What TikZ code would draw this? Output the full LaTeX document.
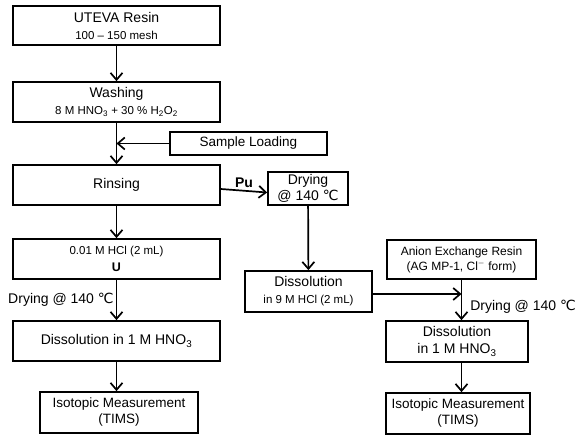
\documentclass[tikz,border=0pt]{standalone}
\usepackage{fontspec}
\setmainfont{Liberation Sans}
\newfontfamily\symfont{DejaVu Sans}
\usetikzlibrary{arrows.meta}
\newcommand{\degc}{{\symfont\char"2103}}
\newcommand{\sm}{\fontsize{11.5}{14}\selectfont}

\begin{document}
\begin{tikzpicture}[x=1pt, y=-1pt,
    stepbox/.style={draw=black, line width=1.7pt, fill=white, inner sep=1pt, align=center,
                    font=\fontsize{14}{17}\selectfont},
    flow/.style={line width=1.7pt, -{Straight Barb[length=7pt, width=12pt, line width=1.7pt]}},
    tag/.style={font=\fontsize{14}{17}\selectfont, inner sep=2pt}]
  \useasboundingbox (0,0) rectangle (576,435);
  % ---------------- left column: resin, washing, loading, rinsing ----------------
  \node[stepbox, minimum width=207, minimum height=39] (uteva) at (116.5,25.5) {UTEVA Resin\\\sm 100 -- 150 mesh};
  \node[stepbox, minimum width=207, minimum height=40] (wash)  at (116.5,102) {Washing\\\sm 8 M HNO\textsubscript{3} + 30 \% H\textsubscript{2}O\textsubscript{2}};
  \node[stepbox, minimum width=157, minimum height=23, font=\fontsize{13.5}{16}\selectfont] (sample) at (248.5,143.5) {Sample Loading};
  \node[stepbox, minimum width=207, minimum height=40] (rinse) at (116.5,185) {Rinsing};
  % ---------------- U branch ----------------
  \node[stepbox, minimum width=207, minimum height=40] (uhcl)   at (116.5,259) {\sm 0.01 M HCl (2 mL)\\\fontsize{12.5}{14}\selectfont\textbf{U}};
  \node[stepbox, minimum width=207, minimum height=40] (dissl)  at (116.5,341) {Dissolution in 1 M HNO\textsubscript{3}};
  \node[stepbox, minimum width=158, minimum height=41, font=\fontsize{13.5}{16}\selectfont] (isol) at (119,412.5) {Isotopic Measurement\\(TIMS)};
  % ---------------- Pu branch ----------------
  \node[stepbox, minimum width=80, minimum height=33, inner sep=0pt, font=\fontsize{14}{15.5}\selectfont] (dry) at (308,188.5) {Drying\\@ 140 \degc};
  \node[stepbox, minimum width=127, minimum height=41] (disshcl) at (308.5,291.5) {Dissolution\\\sm in 9 M HCl (2 mL)};
  \node[stepbox, minimum width=149, minimum height=39, font=\fontsize{12}{15}\selectfont] (anion) at (461.5,259.5) {Anion Exchange Resin\\(AG MP-1, Cl\textsuperscript{$-$} form)};
  \node[stepbox, minimum width=142, minimum height=41] (dissr) at (457,341.5) {Dissolution\\in 1 M HNO\textsubscript{3}};
  \node[stepbox, minimum width=144, minimum height=41, font=\fontsize{13.5}{16}\selectfont] (isor) at (458,413.5) {Isotopic Measurement\\(TIMS)};
  % ---------------- connectors ----------------
  \draw[flow] (uteva) -- (wash);
  \draw[flow] (wash) -- (rinse);
  \draw[flow] (sample.west) -- (sample.west -| wash.south);
  \draw[flow] (rinse) -- (uhcl);
  \draw[flow] (uhcl) -- node[tag, left] {Drying @ 140 \degc} (dissl);
  \draw[flow] (dissl.south) -- (dissl.south |- isol.north);
  \draw[flow] ([yshift=-4pt]rinse.east) -- node[tag, above, font=\fontsize{14}{17}\bfseries] {Pu} ([yshift=-4pt]dry.west);
  \draw[flow] (dry) -- (disshcl);
  \draw[flow] ([yshift=-2.5pt]disshcl.east) -- ([yshift=-2.5pt]disshcl.east -| anion.south);
  \draw[flow] (anion.south) -- node[tag, right, pos=0.68, xshift=6pt] {Drying @ 140 \degc} (anion.south |- dissr.north);
  \draw[flow] (anion.south |- dissr.south) -- (anion.south |- isor.north);
\end{tikzpicture}
\end{document}
